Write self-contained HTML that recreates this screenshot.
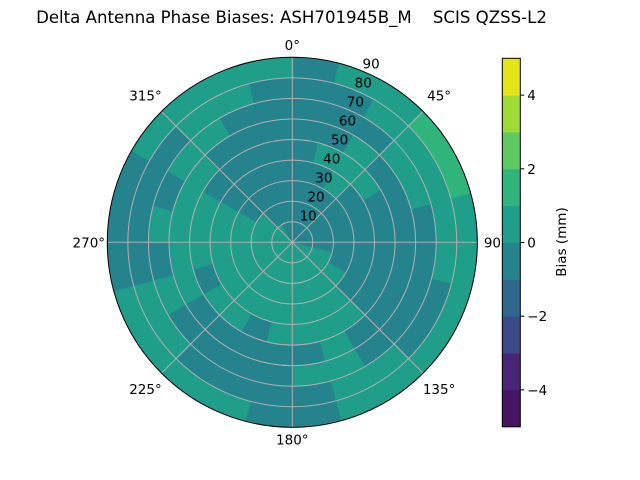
<!DOCTYPE html>
<html><head><meta charset="utf-8"><style>
body{margin:0;background:#fff;}
svg{display:block;font-family:"DejaVu Sans","Liberation Sans",sans-serif;}
</style></head><body>
<svg id="c" width="640" height="480" viewBox="0 0 640 480">
<text x="291.5" y="23" font-size="16.6" text-anchor="middle" xml:space="preserve">Delta Antenna Phase Biases: ASH701945B_M    SCIS QZSS-L2</text>
<g id="plot"></g>
<g id="cbar"></g>
<text x="0" y="0" font-size="13.5" text-anchor="middle" transform="translate(566,242) rotate(-90)">Bias (mm)</text>
</svg>
<script>
// data
const levels = [-5,-4,-3,-2,-1,0,1,2,3,4,5];
const levelColors = ['#471365','#482576','#3e4989','#30678d','#25838e','#1f9e89','#2fb47c','#5ec962','#a0da39','#e5e419'];
const azimuthCenters = [7.5,22.5,37.5,52.5,67.5,82.5,97.5,112.5,127.5,142.5,157.5,172.5,187.5,202.5,217.5,232.5,247.5,262.5,277.5,292.5,307.5,322.5,337.5,352.5];
const zenithRings = [10,20,30,40,50,60,70,80,90];
const cbTicks = [-4,-2,0,2,4];
const angleTicks = [0,45,90,135,180,225,270,315];
// bias values per azimuth sector (rows) and zenith ring (cols, inner->outer)
const B=-0.5, G=0.5, L=1.5;
const bias = [
[B,B,B,B,B,B,B,B,B],
[B,B,B,B,G,B,B,B,G],
[B,B,B,G,G,G,B,G,G],
[B,B,B,B,G,B,G,G,L],
[B,B,B,B,B,B,G,G,L],
[B,B,B,B,B,B,B,G,G],
[B,B,B,B,B,B,B,G,G],
[G,G,B,B,B,B,B,B,G],
[G,G,G,B,B,B,B,B,G],
[G,G,G,G,G,B,B,G,G],
[G,G,G,G,G,G,G,G,G],
[G,G,G,G,G,B,G,B,B],
[G,G,G,G,G,B,B,B,B],
[G,G,G,G,B,B,B,B,G],
[G,G,G,G,G,B,B,B,G],
[G,G,G,G,G,B,B,G,G],
[G,G,G,G,B,G,G,G,G],
[G,G,G,G,G,G,B,B,B],
[G,G,G,G,G,G,G,B,B],
[G,G,G,G,G,G,B,B,B],
[G,G,B,B,B,G,G,B,G],
[G,B,B,B,B,B,G,G,G],
[B,B,B,B,B,B,B,G,G],
[B,B,B,B,B,B,B,B,G]
];
const NS='http://www.w3.org/2000/svg';
const cx=292.3, cy=242.3, R=185, sectorW=15;
function rScale(z){return z/90*R;}
function pt(az,z){const a=az*Math.PI/180, r=rScale(z);return [cx+r*Math.sin(a), cy-r*Math.cos(a)];}
function colorFor(v){for(let i=0;i<levels.length-1;i++){if(v>=levels[i]&&v<levels[i+1])return levelColors[i];}return levelColors[levelColors.length-1];}
function mk(tag,attrs,parent){const e=document.createElementNS(NS,tag);for(const k in attrs)e.setAttribute(k,attrs[k]);parent.appendChild(e);return e;}
const plot=document.getElementById('plot');
azimuthCenters.forEach((ac,i)=>{
  zenithRings.forEach((z,j)=>{
    const z0=j===0?0:zenithRings[j-1], z1=z;
    const a0=ac-sectorW/2-0.3, a1=ac+sectorW/2+0.3;
    const p1=pt(a0,z0),p2=pt(a1,z0),p3=pt(a1,z1),p4=pt(a0,z1);
    const r0=rScale(z0),r1=rScale(z1);
    const d=`M${p1[0]},${p1[1]} A${r0},${r0} 0 0 1 ${p2[0]},${p2[1]} L${p3[0]},${p3[1]} A${r1},${r1} 0 0 0 ${p4[0]},${p4[1]} Z`;
    const e=mk('path',{d:d,fill:colorFor(bias[i][j]),stroke:colorFor(bias[i][j]),'stroke-width':0.6},plot);
    
    
  });
});
zenithRings.forEach(z=>{
  const e=mk('circle',{cx:cx,cy:cy,r:rScale(z),fill:'none',stroke:'#b0b0b0','stroke-width':1},plot);
  
  
});
angleTicks.forEach(a=>{
  const p=pt(a,90);
  const e=mk('line',{x1:cx,y1:cy,x2:p[0],y2:p[1],stroke:'#b0b0b0','stroke-width':1},plot);
  
  
});
zenithRings.forEach(z=>{
  const p=pt(22.5,z);
  const t=mk('text',{x:p[0]+8,y:p[1]-3,'font-size':13.5,'text-anchor':'middle'},plot);
  t.textContent=String(z);
  
  
});
angleTicks.forEach(a=>{
  const off = (a===0||a===180)?6 : (a===90||a===270)?9 : 11;
  const q=pt(a,90+off);
  const t=mk('text',{x:q[0],y:q[1]+5,'font-size':13.5,'text-anchor':'middle'},plot);
  t.textContent=a+'°';
  
  
});
const out=mk('circle',{cx:cx,cy:cy,r:R,fill:'none',stroke:'#000','stroke-width':1},plot);


const cb=document.getElementById('cbar');
const bx=502.3,bw=18,by0=58.3,by1=426.7;
function cbY(v){return by1-(v-levels[0])/(levels[levels.length-1]-levels[0])*(by1-by0);}
for(let i=0;i<levelColors.length;i++){
  const y1=cbY(levels[i+1]),y0=cbY(levels[i]);
  const e=mk('rect',{x:bx,y:y1,width:bw,height:y0-y1+0.5,fill:levelColors[i]},cb);
  
  
}
const fr=mk('rect',{x:bx,y:by0,width:bw,height:by1-by0,fill:'none',stroke:'#000','stroke-width':1},cb);


cbTicks.forEach(v=>{
  const y=cbY(v);
  const l=mk('line',{x1:bx+bw,y1:y,x2:bx+bw+4,y2:y,stroke:'#000','stroke-width':1},cb);
  
  
  const t=mk('text',{x:bx+bw+7,y:y+5,'font-size':13.5},cb);
  t.textContent=(v<0?'\u2212':'')+Math.abs(v);
  
  
});
</script>
</body></html>
